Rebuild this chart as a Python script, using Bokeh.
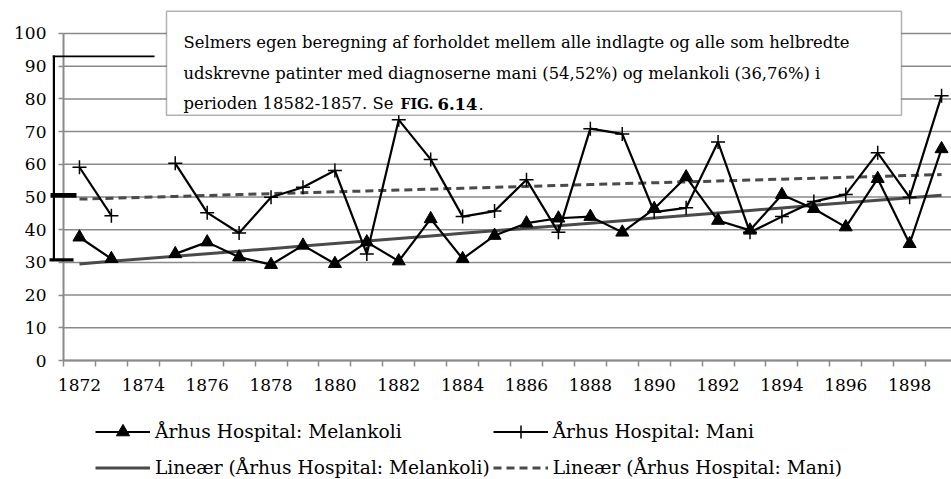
import numpy as np
from bokeh.plotting import figure
from bokeh.models import (Range1d, FixedTicker, BoxAnnotation, Label, Legend, LegendItem)
from bokeh.embed import file_html
from bokeh.resources import INLINE

nan = float("nan")

# ---- data ----
years = list(range(1872, 1900))
melankoli = [37.7, 31.1, nan, 32.6, 36.2, 31.6, 29.3, 35.2, 29.6, 36.2,
             30.4, 43.3, 31.1, 38.2, 42.0, 43.5, 44.0, 39.2, 46.4, 56.1,
             42.8, 39.8, 50.7, 46.4, 40.8, 55.6, 35.7, 64.7]
mani = [59.1, 44.3, nan, 60.3, 45.2, 39.0, 49.9, 53.0, 58.1, 32.6,
        73.6, 61.5, 44.0, 45.7, 55.3, 39.2, 70.9, 69.3, 45.4, 46.7,
        66.8, 39.2, 44.0, 48.6, 50.8, 63.5, 49.9, 81.0]
label_years = list(range(1872, 1899, 2))
year_tick_labels = [str(y) for y in label_years]
y_ticks = list(range(0, 101, 10))
bracket_values = [93.0, 50.5, 30.8]   # annotation bracket (top, upper mark, lower mark)

note_lines = [
    "Selmers egen beregning af forholdet mellem alle indlagte og alle som helbredte",
    "udskrevne patinter med diagnoserne mani (54,52%) og melankoli (36,76%) i",
]
note_line3 = ["perioden 18582-1857. Se", "FIG.", "6.14", "."]

legend_labels = ["Århus Hospital: Melankoli", "Århus Hospital: Mani",
                 "Lineær (Århus Hospital: Melankoli)", "Lineær (Århus Hospital: Mani)"]

# ---- trend lines (least squares over available points) ----
def trend(xs, ys):
    xa = np.array(xs, dtype=float)
    ya = np.array(ys, dtype=float)
    m = ~np.isnan(ya)
    k, b = np.polyfit(xa[m], ya[m], 1)
    return list(k * xa + b)

mel_trend = trend(years, melankoli)
mani_trend = trend(years, mani)

FONT = "DejaVu Serif"
GRID = "#8a8a8a"
X0 = years[0] - 0.5
XEND = 1899.311

p = figure(width=951, height=479, output_backend="svg", toolbar_location=None,
           x_range=Range1d(1869.527, XEND), y_range=Range1d(-36.39, 110.09),
           min_border_left=0, min_border_right=0, min_border_top=0, min_border_bottom=0)
p.outline_line_color = None
p.background_fill_color = "white"
p.xgrid.visible = False
p.ygrid.visible = False

# gridlines at the y tick values, starting at the y axis
p.segment(x0=X0, x1=XEND, y0=y_ticks, y1=y_ticks, line_color=GRID, line_width=1.5)

# axes inside the frame
xt = FixedTicker(ticks=label_years,
                 minor_ticks=[y - 0.5 for y in years] + [years[-1] + 0.5])
p.xaxis.fixed_location = 0
p.xaxis.bounds = (X0, XEND)
p.xaxis.ticker = xt
p.xaxis.major_label_overrides = {y: lab for y, lab in zip(label_years, year_tick_labels)}
p.xaxis.major_tick_out = 0
p.xaxis.major_tick_in = 0
p.xaxis.minor_tick_out = 6
p.xaxis.minor_tick_in = 0
p.xaxis.minor_tick_line_color = GRID
p.xaxis.minor_tick_line_width = 1.5
p.xaxis.axis_line_color = GRID
p.xaxis.axis_line_width = 2
p.xaxis.major_label_standoff = 12
p.xaxis.major_label_text_font = FONT
p.xaxis.major_label_text_font_size = "17px"
p.xaxis.major_label_text_color = "black"

yt = FixedTicker(ticks=y_ticks, minor_ticks=[])
p.yaxis.fixed_location = X0
p.yaxis.ticker = yt
p.yaxis.bounds = (0, 100)
p.yaxis.major_tick_out = 5
p.yaxis.major_tick_in = 0
p.yaxis.major_tick_line_color = GRID
p.yaxis.major_tick_line_width = 1.5
p.yaxis.minor_tick_line_color = None
p.yaxis.axis_line_color = GRID
p.yaxis.axis_line_width = 2
p.yaxis.major_label_standoff = 12
p.yaxis.major_label_text_font = FONT
p.yaxis.major_label_text_font_size = "17px"
p.yaxis.major_label_text_color = "black"

# series
t1 = p.line(years, mel_trend, line_color="#4a4a4a", line_width=3)
t2 = p.line(years, mani_trend, line_color="#4a4a4a", line_width=3, line_dash="8 5")
l1 = p.line(years, melankoli, line_color="black", line_width=2.2)
s1 = p.scatter(years, melankoli, marker="triangle", size=13, fill_color="black", line_color="black")
l2 = p.line(years, mani, line_color="black", line_width=2.2)
s2 = p.scatter(years, mani, marker="cross", size=14, line_color="black", line_width=1.5)

# bracket annotation at left
bk = dict(fill_color="black", fill_alpha=1, line_color=None, level="overlay",
          left_units="canvas", right_units="canvas")
p.add_layout(BoxAnnotation(left=52.3, right=54.5,
                           top=bracket_values[0] + 0.3, bottom=bracket_values[2] - 0.4, **bk))
p.add_layout(BoxAnnotation(left=52.3, right=154,
                           top=bracket_values[0] + 0.3, bottom=bracket_values[0] - 0.3, **bk))
p.add_layout(BoxAnnotation(left=50, right=76,
                           top=bracket_values[1] + 0.7, bottom=bracket_values[1] - 0.7, **bk))
p.add_layout(BoxAnnotation(left=49, right=73,
                           top=bracket_values[2] + 0.5, bottom=bracket_values[2] - 0.5, **bk))

# note box
p.add_layout(BoxAnnotation(left=166, right=901, top=10.7, bottom=114.7,
                           left_units="canvas", right_units="canvas",
                           top_units="canvas", bottom_units="canvas",
                           fill_color="white", fill_alpha=1, line_color="black", line_width=1.5))
lab = dict(x_units="canvas", y_units="canvas", text_font=FONT, text_font_size="16.4px",
           text_color="black", text_baseline="alphabetic")
p.add_layout(Label(x=183, y=42, text=note_lines[0], **lab))
p.add_layout(Label(x=183, y=73, text=note_lines[1], **lab))
p.add_layout(Label(x=183, y=103, text=note_line3[0], **lab))
p.add_layout(Label(x=400, y=103, text=note_line3[1], text_font_style="bold",
                   **{**lab, "text_font_size": "14px"}))
p.add_layout(Label(x=437, y=103, text=note_line3[2], text_font_style="bold", **lab))
p.add_layout(Label(x=478, y=103, text=note_line3[3], **lab))

legend = Legend(items=[
    LegendItem(label=legend_labels[0], renderers=[l1, s1]),
    LegendItem(label=legend_labels[1], renderers=[l2, s2]),
    LegendItem(label=legend_labels[2], renderers=[t1]),
    LegendItem(label=legend_labels[3], renderers=[t2]),
], location=(95, -4.5), orientation="horizontal", ncols=2,
   padding=0, margin=0, spacing=3, border_line_color=None, background_fill_alpha=0,
   glyph_width=55, glyph_height=33, label_height=33, label_standoff=5,
   label_text_font=FONT, label_text_font_size="18.6px", label_text_color="black")
p.add_layout(legend, "center")

open("out.html", "w").write(file_html(p, INLINE))
